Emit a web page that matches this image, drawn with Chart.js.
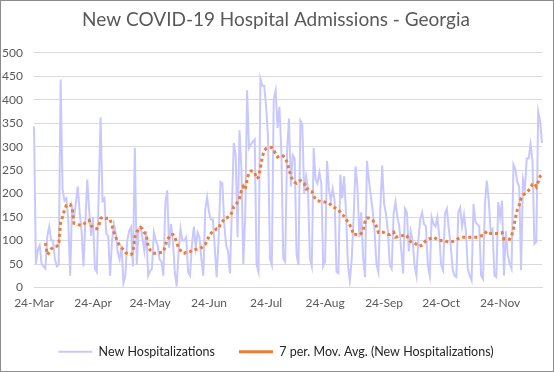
<!DOCTYPE html>
<html>
<head>
<meta charset="utf-8">
<script src="https://cdn.jsdelivr.net/npm/chart.js@4"></script>
<style>
  html, body { margin: 0; padding: 0; background: #fff; }
</style>
</head>
<body>
<canvas id="myChart" width="554" height="372"></canvas>
<script>
// daily values, 24-Mar .. 16-Dec
const hospitalizations = [
  343, 50, 80, 90, 50, 45, 40, 110, 130, 100,
  100, 60, 45, 48, 443, 210, 185, 190, 145, 25,
  170, 150, 180, 215, 160, 120, 45, 140, 230, 165,
  110, 150, 40, 33, 200, 362, 185, 190, 115, 110,
  25, 100, 135, 115, 75, 60, 90, 10, 25, 100,
  120, 128, 45, 297, 48, 125, 130, 105, 77, 120,
  25, 35, 40, 117, 100, 90, 60, 55, 25, 178,
  207, 85, 135, 100, 33, 2, 77, 125, 100, 100,
  107, 33, 25, 90, 130, 85, 117, 107, 60, 25,
  165, 192, 160, 145, 145, 85, 22, 100, 225, 222,
  135, 90, 77, 30, 165, 308, 282, 107, 335, 255,
  50, 150, 420, 297, 305, 310, 315, 48, 33, 445,
  430, 430, 385, 320, 62, 48, 402, 420, 340, 385,
  290, 62, 55, 290, 360, 215, 282, 275, 70, 48,
  355, 347, 200, 237, 210, 62, 45, 297, 230, 222,
  245, 222, 45, 55, 270, 210, 185, 210, 185, 33,
  30, 240, 190, 237, 157, 48, 15, 62, 150, 258,
  215, 107, 160, 62, 22, 270, 230, 195, 165, 120,
  50, 33, 165, 260, 178, 157, 120, 48, 40, 157,
  182, 150, 130, 80, 30, 168, 160, 77, 120, 100,
  48, 25, 100, 145, 160, 135, 130, 48, 25, 150,
  135, 130, 150, 110, 48, 37, 157, 168, 125, 90,
  40, 25, 22, 160, 170, 130, 155, 120, 40, 25,
  15, 178, 140, 135, 130, 25, 18, 178, 228, 185,
  120, 125, 25, 22, 182, 150, 185, 25, 120, 70,
  50, 40, 262, 252, 225, 215, 37, 230, 210, 275,
  275, 305, 270, 93, 97, 375, 355, 308
];

// 7 per. moving average
const movingAvg = [
  null, null, null, null, null, null, 95, 70, 75, 82,
  85, 88, 88, 90, 140, 150, 165, 175, 177, 177,
  170, 137, 136, 135, 133, 132, 135, 138, 140, 143,
  132, 128, 125, 125, 130, 147, 150, 148, 147, 148,
  145, 132, 117, 107, 97, 90, 85, 80, 75, 72,
  70, 70, 75, 107, 118, 125, 128, 125, 117, 112,
  88, 80, 75, 73, 73, 74, 74, 75, 76, 88,
  102, 107, 113, 113, 108, 95, 85, 79, 73, 73,
  75, 75, 76, 80, 80, 81, 83, 83, 85, 88,
  92, 100, 110, 115, 120, 122, 125, 125, 135, 140,
  147, 148, 150, 152, 160, 172, 175, 182, 190, 205,
  215, 208, 230, 245, 248, 248, 245, 232, 235, 255,
  278, 292, 296, 298, 298, 298, 292, 285, 278, 280,
  282, 280, 276, 267, 252, 238, 228, 224, 222, 226,
  228, 225, 222, 210, 210, 207, 205, 195, 188, 185,
  184, 183, 183, 182, 180, 180, 176, 172, 170, 168,
  166, 160, 155, 152, 145, 140, 133, 125, 112, 113,
  113, 112, 115, 122, 140, 148, 148, 146, 143, 138,
  130, 117, 118, 118, 117, 115, 113, 113, 116, 118,
  107, 108, 109, 110, 111, 113, 110, 100, 98, 96,
  95, 92, 88, 89, 90, 95, 100, 102, 104, 105,
  107, 105, 102, 100, 100, 100, 100, 98, 97, 97,
  98, 100, 102, 104, 106, 107, 107, 107, 107, 107,
  107, 107, 107, 107, 108, 110, 110, 115, 120, 117,
  115, 115, 115, 115, 115, 116, 117, 103, 103, 103,
  103, 110, 125, 148, 165, 175, 190, 197, 200, 203,
  207, 213, 220, 222, 215, 225, 237, 240
];

const tickLabels = ["24-Mar", "24-Apr", "24-May", "24-Jun", "24-Jul", "24-Aug", "24-Sep", "24-Oct", "24-Nov"];

const months = ["Jan", "Feb", "Mar", "Apr", "May", "Jun", "Jul", "Aug", "Sep", "Oct", "Nov", "Dec"];
const labels = hospitalizations.map((_, i) => {
  const d = new Date(2020, 2, 24 + i);
  return d.getDate() + "-" + months[d.getMonth()];
});

const FONT = "Lato, 'Liberation Sans', sans-serif";

const chartBorder = {
  id: "chartBorder",
  afterDraw(chart) {
    const ctx = chart.ctx;
    ctx.save();
    ctx.strokeStyle = "#8c8c8c";
    ctx.lineWidth = 1;
    ctx.strokeRect(0.5, 0.5, chart.width - 1, chart.height - 1);
    ctx.restore();
  },
};

const data = {
  labels,
  datasets: [
    {
      label: "New Hospitalizations",
      data: hospitalizations,
      borderColor: "#c8c8ff",
      backgroundColor: "#c8c8ff",
      borderWidth: 2,
      pointRadius: 0,
      tension: 0,
      order: 2,
    },
    {
      label: "7 per. Mov. Avg. (New Hospitalizations)",
      data: movingAvg,
      borderColor: "#ed7d31",
      backgroundColor: "#ed7d31",
      borderWidth: 3,
      borderDash: [3, 3],
      pointRadius: 0,
      tension: 0,
      order: 1,
    },
  ],
};

const config = {
  type: "line",
  data,
  options: {
    responsive: false,
    animation: false,
    devicePixelRatio: 1,
    layout: { padding: { top: 8, left: 0, right: 2, bottom: 4 } },
    plugins: {
      title: {
        display: true,
        text: "New COVID-19 Hospital Admissions - Georgia",
        color: "#595959",
        font: { family: FONT, size: 19, weight: "normal" },
        padding: { top: 0, bottom: 22 },
      },
      legend: {
        position: "bottom",
        labels: {
          color: "#262626",
          font: { family: FONT, size: 12.5 },
          usePointStyle: true,
          pointStyle: "line",
          pointStyleWidth: 34,
          padding: 24,
          sort: (a, b) => a.datasetIndex - b.datasetIndex,
        },
      },
      tooltip: { enabled: false },
    },
    scales: {
      x: {
        grid: { display: false, drawTicks: false },
        border: { display: true, color: "#d9d9d9" },
        afterBuildTicks: (axis) => {
          axis.ticks = axis.ticks.filter((t) => tickLabels.includes(labels[t.value]));
        },
        afterFit: (axis) => { axis.height = 34; },
        ticks: {
          autoSkip: false,
          maxRotation: 0,
          padding: 8,
          color: "#595959",
          font: { family: FONT, size: 12 },
        },
      },
      y: {
        min: 0,
        max: 500,
        grid: { color: "#d9d9d9", drawTicks: false },
        border: { display: false },
        afterFit: (axis) => { axis.width = 34; },
        ticks: {
          stepSize: 50,
          padding: 11,
          color: "#595959",
          font: { family: FONT, size: 12 },
        },
      },
      // empty right-hand axis: keeps the plot edge at the reference spot
      yRight: {
        position: "right",
        display: true,
        grid: { display: false, drawTicks: false },
        border: { display: false },
        ticks: { display: false },
        afterFit: (axis) => { axis.width = 10; },
      },
    },
  },
  plugins: [chartBorder],
};

var myChart = new Chart(document.getElementById("myChart"), config);
</script>
</body>
</html>
